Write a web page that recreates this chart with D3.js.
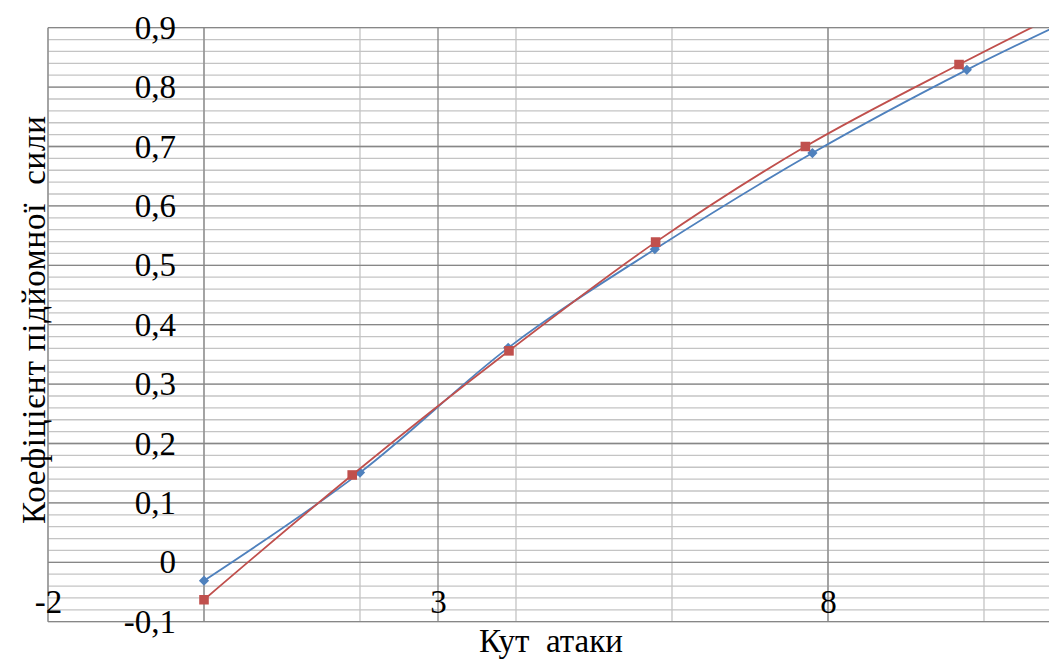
<!DOCTYPE html>
<html>
<head>
<meta charset="utf-8">
<script src="https://cdn.jsdelivr.net/npm/d3@7"></script>
<style>
  html, body { margin: 0; padding: 0; background: #fff; }
  svg { display: block; }
  svg text {
    font-family: "Liberation Serif", "Tinos", "Times New Roman", "Nimbus Roman", "Nimbus Roman No9 L",
                 "FreeSerif", "Noto Serif", "DejaVu Serif", serif;
    fill: #000;
  }
</style>
</head>
<body>
<svg id="chart" width="1049" height="661"></svg>
<script>
// Lift coefficient vs. angle of attack, two smoothed series
const seriesAX = [0, 2.0, 3.9, 5.78, 7.8, 9.78, 11.7];
const seriesAY = [-0.031, 0.151, 0.361, 0.527, 0.689, 0.829, 0.95];
const seriesBX = [0, 1.9, 3.91, 5.79, 7.71, 9.68, 11.6];
const seriesBY = [-0.063, 0.147, 0.356, 0.539, 0.700, 0.838, 0.965];

const xLabelTicks = [-2, 3, 8];
const xMajorTicks = [-2, 3, 8, 13];
const xMinorTicks = [-2, 0, 2, 4, 6, 8, 10, 12];
const yMajorTicks = [-0.1, 0, 0.1, 0.2, 0.3, 0.4, 0.5, 0.6, 0.7, 0.8, 0.9];
const yMinorTicks = d3.range(0, 51).map(i => -0.1 + i * 0.02);

const xTitle = "Кут  атаки";
const yTitle = "Коефіцієнт підйомної  сили";

const svg = d3.select("#chart");

const plot = { left: 48, top: 27.7, bottom: 621.7, right: 1218 };
const x = d3.scaleLinear().domain([-2, 13]).range([plot.left, plot.right]);
const y = d3.scaleLinear().domain([-0.1, 0.9]).range([plot.bottom, plot.top]);

const locale = d3.formatLocale({ decimal: ",", thousands: " ", grouping: [3], currency: ["", ""], minus: "-" });
const fmtY = v => Math.abs(v) < 1e-9 ? "0" : locale.format(".1f")(v);

svg.append("defs").append("clipPath").attr("id", "plotClip")
  .append("rect")
  .attr("x", plot.left).attr("y", plot.top)
  .attr("width", plot.right - plot.left).attr("height", plot.bottom - plot.top);

const grid = svg.append("g");
const minorColor = "#c4c4c4", majorColor = "#878787";

// minor grid
grid.selectAll(".ymin").data(yMinorTicks).join("line")
  .attr("x1", plot.left).attr("x2", plot.right)
  .attr("y1", d => y(d)).attr("y2", d => y(d))
  .attr("stroke", minorColor).attr("stroke-width", 1.3);
grid.selectAll(".xmin").data(xMinorTicks).join("line")
  .attr("x1", d => x(d)).attr("x2", d => x(d))
  .attr("y1", plot.top).attr("y2", plot.bottom)
  .attr("stroke", minorColor).attr("stroke-width", 1.3);

// major grid
grid.selectAll(".ymaj").data(yMajorTicks).join("line")
  .attr("x1", plot.left).attr("x2", plot.right)
  .attr("y1", d => y(d)).attr("y2", d => y(d))
  .attr("stroke", majorColor).attr("stroke-width", 1.3);
grid.selectAll(".xmaj").data(xMajorTicks).join("line")
  .attr("x1", d => x(d)).attr("x2", d => x(d))
  .attr("y1", plot.top).attr("y2", plot.bottom)
  .attr("stroke", majorColor).attr("stroke-width", 1.3);

// vertical axis line at x = 0
grid.append("line")
  .attr("x1", x(0)).attr("x2", x(0))
  .attr("y1", plot.top).attr("y2", plot.bottom)
  .attr("stroke", majorColor).attr("stroke-width", 1.3);

// y axis labels
const yAxis = d3.axisLeft(y).tickValues(yMajorTicks).tickFormat(fmtY).tickSize(0).tickPadding(28);
const gy = svg.append("g").attr("transform", `translate(${x(0)},0)`).call(yAxis);
gy.attr("font-family", null).attr("font-size", null);
gy.select(".domain").remove();
gy.selectAll("text").attr("font-size", 33);

// x axis labels
const xAxis = d3.axisBottom(x).tickValues(xLabelTicks).tickFormat(d => String(d)).tickSize(0).tickPadding(-32);
const gx = svg.append("g").attr("transform", `translate(0,${plot.bottom})`).call(xAxis);
gx.attr("font-family", null).attr("font-size", null);
gx.select(".domain").remove();
gx.selectAll("text").attr("font-size", 33);

// axis titles
svg.append("text")
  .attr("x", 551).attr("y", 652)
  .attr("text-anchor", "middle")
  .attr("font-size", 33)
  .style("white-space", "pre")
  .text(xTitle);

svg.append("text")
  .attr("transform", "translate(45,320) rotate(-90)")
  .attr("text-anchor", "middle")
  .attr("font-size", 33)
  .attr("textLength", 408)
  .attr("lengthAdjust", "spacing")
  .style("white-space", "pre")
  .text(yTitle);

// series
const series = [
  { xs: seriesAX, ys: seriesAY, color: "#4f81bd", symbol: "diamond" },
  { xs: seriesBX, ys: seriesBY, color: "#c0504d", symbol: "square" }
];

const line = d3.line()
  .x(d => x(d[0])).y(d => y(d[1]))
  .curve(d3.curveCardinal.tension(0));

const data = svg.append("g").attr("clip-path", "url(#plotClip)");

series.forEach(s => {
  const pts = s.xs.map((v, i) => [v, s.ys[i]]);
  data.append("path")
    .attr("d", line(pts))
    .attr("fill", "none")
    .attr("stroke", s.color)
    .attr("stroke-width", 1.8);

  const sym = s.symbol === "diamond"
    ? d3.symbol(d3.symbolSquare, 52)
    : d3.symbol(d3.symbolSquare, 92);
  data.selectAll(null).data(pts).join("path")
    .attr("d", sym)
    .attr("transform", d => `translate(${x(d[0])},${y(d[1])})` + (s.symbol === "diamond" ? " rotate(45)" : ""))
    .attr("fill", s.color);
});
</script>
</body>
</html>
